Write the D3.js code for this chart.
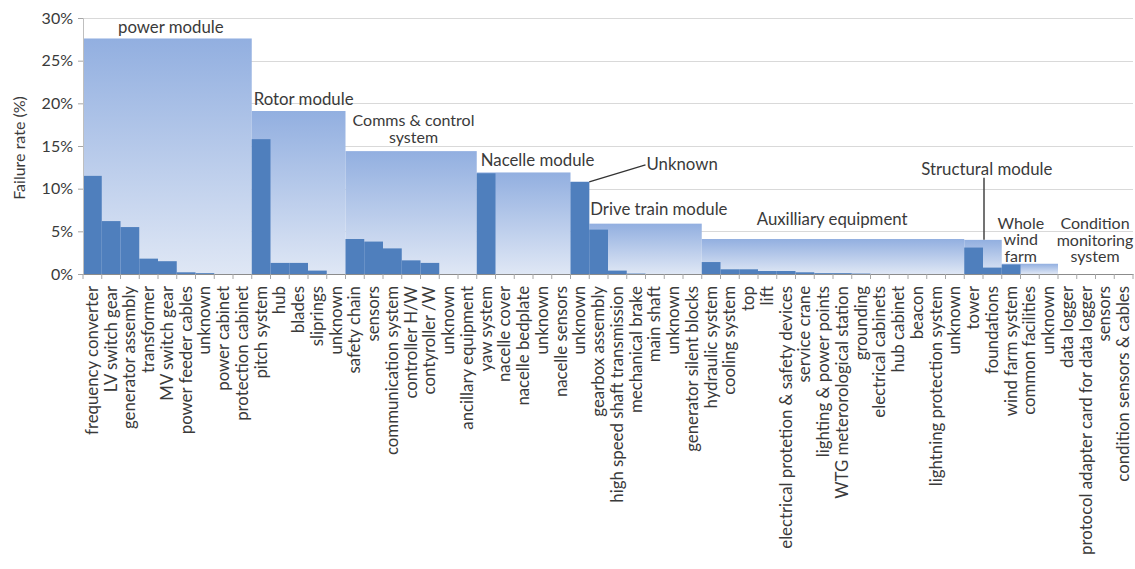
<!DOCTYPE html>
<html>
<head>
<meta charset="utf-8">
<script src="https://cdn.jsdelivr.net/npm/d3@7/dist/d3.min.js"></script>
<style>
  html, body { margin: 0; padding: 0; background: #fff; }
  svg { display: block; }
  text { font-family: Lato, "Open Sans", sans-serif; fill: #3a3a3a; }
</style>
</head>
<body>
<svg id="chart" width="1135" height="569"></svg>
<script>
// ---- data ----
const categories = [
  "frequency converter", "LV switch gear", "generator assembly", "transformer", "MV switch gear",
  "power feeder cables", "unknown", "power cabinet", "protection cabinet",
  "pitch system", "hub", "blades", "sliprings", "unknown",
  "safety chain", "sensors", "communication system", "controller H/W", "contyroller /W", "unknown", "ancillary equipment",
  "yaw system", "nacelle cover", "nacelle bedplate", "unknown", "nacelle sensors",
  "unknown",
  "gearbox assembly", "high speed shaft transmission", "mechanical brake", "main shaft", "unknown", "generator silent blocks",
  "hydraulic system", "cooling system", "top", "lift", "electrical protetion & safety devices", "service crane",
  "lighting & power points", "WTG meterorological station", "grounding", "electrical cabinets", "hub cabinet",
  "beacon", "lightning protection system", "unknown",
  "tower", "foundations",
  "wind farm system", "common facilities", "unknown",
  "data logger", "protocol adapter card for data logger", "sensors", "condition sensors & cables"
];
const failureRates = [
  11.5, 6.2, 5.5, 1.8, 1.5, 0.2, 0.1, 0, 0,
  15.8, 1.3, 1.3, 0.4, 0,
  4.1, 3.8, 3.0, 1.6, 1.3, 0, 0,
  11.8, 0, 0, 0, 0,
  10.8,
  5.2, 0.4, 0.05, 0, 0, 0,
  1.4, 0.55, 0.55, 0.35, 0.35, 0.2, 0.1, 0.1, 0.05, 0, 0, 0, 0, 0,
  3.1, 0.75,
  1.1, 0, 0,
  0, 0, 0, 0
];
const moduleNames = [
  ["power module"], ["Rotor module"], ["Comms & control", "system"], ["Nacelle module"], ["Unknown"],
  ["Drive train module"], ["Auxilliary equipment"], ["Structural module"], ["Whole", "wind", "farm"],
  ["Condition", "monitoring", "system"]
];
const moduleSizes = [9, 5, 7, 5, 1, 6, 14, 2, 3, 4];
const moduleTotals = [27.6, 19.1, 14.4, 11.9, 10.8, 5.9, 4.1, 4.0, 1.2, 0];
const yTicks = [0, 5, 10, 15, 20, 25, 30];

// ---- layout ----
const svg = d3.select("#chart");
const plotLeft = 83, plotRight = 1133, plotTop = 18, plotBottom = 274;
const ids = categories.map((c, i) => i);
const x = d3.scaleBand().domain(ids).range([plotLeft, plotRight]).padding(0);
const y = d3.scaleLinear().domain([0, 30]).range([plotBottom, plotTop]);
const bw = x.bandwidth();

let acc = 0;
const modules = moduleNames.map((lines, i) => {
  const m = { lines, start: acc, n: moduleSizes[i], total: moduleTotals[i] };
  acc += moduleSizes[i];
  return m;
});

const defs = svg.append("defs");
const grad = defs.append("linearGradient").attr("id", "modGrad")
  .attr("x1", 0).attr("y1", 0).attr("x2", 0).attr("y2", 1);
grad.append("stop").attr("offset", "0%").attr("stop-color", "#92afe0");
grad.append("stop").attr("offset", "100%").attr("stop-color", "#dfe7f5");

// gridlines
svg.append("g").selectAll("line").data(yTicks.filter(t => t > 0)).join("line")
  .attr("x1", plotLeft).attr("x2", plotRight)
  .attr("y1", d => Math.round(y(d)) + 0.5).attr("y2", d => Math.round(y(d)) + 0.5)
  .attr("stroke", "#d9d9d9").attr("stroke-width", 1);

// module backgrounds
svg.append("g").selectAll("rect").data(modules).join("rect")
  .attr("x", d => x(d.start))
  .attr("width", d => bw * d.n)
  .attr("y", d => y(d.total))
  .attr("height", d => y(0) - y(d.total))
  .attr("fill", "url(#modGrad)");

// bars
svg.append("g").selectAll("rect").data(failureRates).join("rect")
  .attr("x", (d, i) => x(i))
  .attr("width", bw)
  .attr("y", d => y(d))
  .attr("height", d => y(0) - y(d))
  .attr("fill", "#4f7fbd");

// y axis
const yAxis = d3.axisLeft(y).tickValues(yTicks).tickFormat(d => d + "%").tickSize(5).tickPadding(5);
const gy = svg.append("g").attr("transform", `translate(${plotLeft},0)`).call(yAxis);
gy.select(".domain").attr("stroke", "#bfbfbf");
gy.selectAll(".tick line").attr("stroke", "#a6a6a6");
gy.selectAll(".tick text").attr("font-size", 16).attr("fill", "#3a3a3a")
  .style("font-family", "Lato, sans-serif");

// x axis
const xAxis = d3.axisBottom(x).tickFormat(i => categories[i]).tickSize(0).tickPadding(0);
const gx = svg.append("g").attr("transform", `translate(0,${plotBottom})`).call(xAxis);
gx.select(".domain").attr("stroke", "#8c8c8c");
gx.selectAll(".tick text")
  .attr("font-size", 16.8)
  .attr("fill", "#3a3a3a")
  .style("font-family", "Lato, sans-serif")
  .attr("text-anchor", "end")
  .attr("dy", null)
  .attr("y", 0)
  .attr("transform", "translate(5.5,12) rotate(-90)");
// category boundary ticks
svg.append("g").selectAll("line").data(d3.range(categories.length + 1)).join("line")
  .attr("x1", i => plotLeft + i * bw).attr("x2", i => plotLeft + i * bw)
  .attr("y1", plotBottom).attr("y2", plotBottom + 5)
  .attr("stroke", "#a6a6a6");

// y title
svg.append("text")
  .attr("transform", `translate(25,${(y(0) + y(30)) / 2 + 2}) rotate(-90)`)
  .attr("text-anchor", "middle").attr("font-size", 16).text("Failure rate (%)");

// module labels
function addLabel(lines, cx, cy, anchor) {
  const multi = lines.length > 1;
  const t = svg.append("text").attr("font-size", multi ? 16 : 16.8).attr("text-anchor", anchor);
  lines.forEach((l, k) => {
    t.append("tspan").attr("x", cx).attr("y", cy + k * 16.5).text(l);
  });
}
const m = modules;
addLabel(m[0].lines, x(m[0].start) + 35, y(m[0].total) - 5, "start");
addLabel(m[1].lines, x(m[1].start) + 2, y(m[1].total) - 6, "start");
addLabel(m[2].lines, x(m[2].start) + 68, y(m[2].total) - 25, "middle");
addLabel(m[3].lines, x(m[3].start) + 4, y(m[3].total) - 6, "start");
addLabel(m[4].lines, x(m[4].start) + 76, y(m[4].total) - 12, "start");
addLabel(m[5].lines, x(m[5].start) + 1, y(m[5].total) - 9, "start");
addLabel(m[6].lines, x(m[6].start) + 55, y(m[6].total) - 14, "start");
addLabel(m[7].lines, x(m[7].start) - 43, y(m[7].total) - 65, "start");
addLabel(m[8].lines, x(m[8].start) + 19, y(m[8].total) - 35, "middle");
addLabel(m[9].lines, x(m[9].start) + 37, y(0) - 45, "middle");

// leader lines
svg.append("line")
  .attr("x1", x(m[4].start) + bw).attr("y1", y(m[4].total))
  .attr("x2", x(m[4].start) + 75).attr("y2", y(m[4].total) - 17)
  .attr("stroke", "#333").attr("stroke-width", 1.2);
svg.append("line")
  .attr("x1", x(m[7].start) + bw + 1).attr("y1", y(m[7].total) - 62)
  .attr("x2", x(m[7].start) + bw + 1).attr("y2", y(m[7].total))
  .attr("stroke", "#444").attr("stroke-width", 1.5);
</script>
</body>
</html>
